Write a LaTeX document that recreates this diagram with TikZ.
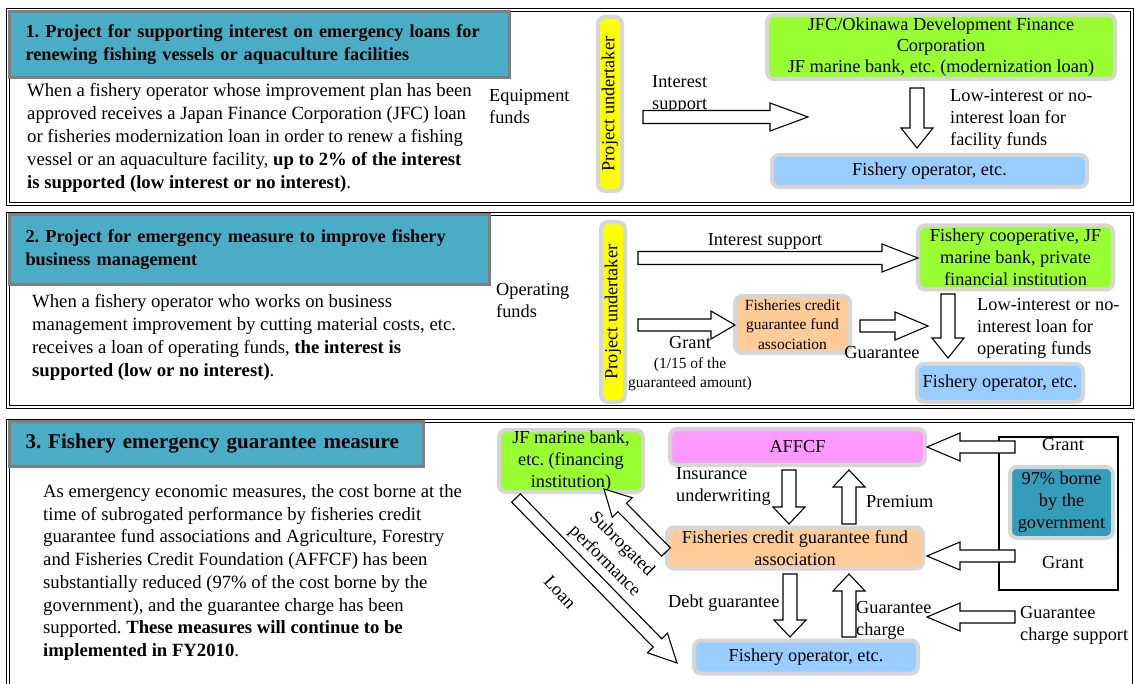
\documentclass[tikz,border=0pt]{standalone}
\usepackage{fontspec}
\setmainfont{Liberation Serif}
\usetikzlibrary{calc}
\frenchspacing
\definecolor{hdr}{HTML}{4BACC6}
\definecolor{hdrline}{HTML}{7F7F7F}
\definecolor{boxline}{HTML}{D6D6D6}
\definecolor{ylw}{HTML}{FFFF00}
\definecolor{grn}{HTML}{99FF33}
\definecolor{blu}{HTML}{99CCFF}
\definecolor{org}{HTML}{FFCC99}
\definecolor{pnk}{HTML}{FF99FF}
\definecolor{tealdk}{HTML}{349EBA}
% block arrow: [opts]{from}{to}{shaft half width}{head half width}{head length}
\newcommand\blockarrow[6][]{%
  \coordinate (bahead) at ($(#3)!#6pt!(#2)$);
  \draw[barrow,#1] ($(#2)!#4pt!90:(#3)$) -- ($(bahead)!#4pt!90:(#3)$)
    -- ($(bahead)!#5pt!90:(#3)$) -- (#3) -- ($(bahead)!#5pt!-90:(#3)$)
    -- ($(bahead)!#4pt!-90:(#3)$) -- ($(#2)!#4pt!-90:(#3)$) -- cycle;}
\begin{document}
\frenchspacing
\begin{tikzpicture}[x=1pt,y=-1pt,
  frame/.style={draw=black, double=white, double distance=1.4pt, line width=0.9pt},
  header/.style={draw=hdrline, line width=3pt, fill=hdr, anchor=north west, align=left,
    inner xsep=16pt, inner ysep=0pt, font=\fontsize{18.3}{22.5}\selectfont\bfseries},
  body/.style={anchor=west, align=left, inner sep=0pt, font=\fontsize{18.7}{23}\selectfont},
  lbl/.style={align=left, inner sep=0pt, font=\fontsize{18.3}{22}\selectfont},
  clbl/.style={align=center, inner sep=0pt, font=\fontsize{18.3}{22}\selectfont},
  rbox/.style={draw=boxline, line width=4pt, rounded corners=7pt, inner sep=0pt,
    align=center, font=\fontsize{18.3}{22}\selectfont},
  barrow/.style={draw=black, fill=white, line width=1.1pt, line join=miter}
]
\useasboundingbox (0,0) rectangle (1135,684);
\fill[white] (0,0) rectangle (1135,684);

% ---------------- Panel 1 ----------------
\draw[frame] (8,10) rectangle (1132,204);
\node[header, minimum width=500, minimum height=66, text width=468] (h1) at (8,10)
  {1. Project for supporting interest on emergency loans for\\renewing fishing vessels or aquaculture facilities};
\node[body] (t1) at (27,138) {When a fishery operator whose improvement plan has been\\
approved receives a Japan Finance Corporation (JFC) loan\\
or fisheries modernization loan in order to renew a fishing\\
vessel or an aquaculture facility, \textbf{up to 2\% of the interest}\\
\textbf{is supported (low interest or no interest)}.};
\node[lbl, anchor=west] (ef) at (489,107) {Equipment\\funds};
\node[rbox, fill=ylw, rotate=90, minimum width=174, minimum height=24] (pu1) at (610,104) {Project undertaker};
\node[lbl, anchor=west] (is1) at (652,94) {Interest\\support};
\node[rbox, fill=grn, minimum width=348, minimum height=64, font=\fontsize{18.3}{21}\selectfont] (gb1) at (941,47)
  {JFC/Okinawa Development Finance\\Corporation\\JF marine bank, etc. (modernization loan)};
\node[lbl, anchor=west] (lo1) at (950,119) {Low-interest or no-\\interest loan for\\facility funds};
\node[rbox, fill=blu, minimum width=315, minimum height=32] (bb1) at (929.5,171) {Fishery operator, etc.};
\coordinate (a1s) at (643,117); \coordinate (a1e) at (808,117);
\blockarrow{a1s}{a1e}{6.5}{14}{38}
\coordinate (d1s) at (917,88); \coordinate (d1e) at (917,148);
\blockarrow{d1s}{d1e}{7}{16}{20}

% ---------------- Panel 2 ----------------
\draw[frame] (8,214) rectangle (1132,407);
\node[header, minimum width=480, minimum height=70, text width=448] (h2) at (8,213)
  {2. Project for emergency measure to improve fishery\\business management};
\node[body] (t2) at (32,337) {When a fishery operator who works on business\\
management improvement by cutting material costs, etc.\\
receives a loan of operating funds, \textbf{the interest is}\\
\textbf{supported (low or no interest)}.};
\node[lbl, anchor=west] (of) at (496,301) {Operating\\funds};
\node[rbox, fill=ylw, rotate=90, minimum width=180, minimum height=24] (pu2) at (613,312) {Project undertaker};
\node[clbl] (is2) at (765,241) {Interest support};
\node[rbox, fill=grn, minimum width=195, minimum height=64] (gb2) at (1015.5,257.5)
  {Fishery cooperative, JF\\marine bank, private\\financial institution};
\node[rbox, fill=org, minimum width=115, minimum height=57, font=\fontsize{15.5}{19.5}\selectfont] (ob2) at (792.5,324.5)
  {Fisheries credit\\guarantee fund\\association};
\node[clbl] (gr2) at (690,343) {Grant};
\node[clbl, font=\fontsize{15.5}{18.5}\selectfont] (gr2b) at (690,374) {(1/15 of the\\guaranteed amount)};
\node[clbl] (gu2) at (882,353) {Guarantee};
\node[lbl, anchor=west] (lo2) at (977,328.5) {Low-interest or no-\\interest loan for\\operating funds};
\node[rbox, fill=blu, minimum width=166, minimum height=38] (bb2) at (1000,383) {Fishery operator, etc.};
\coordinate (i2s) at (638,258); \coordinate (i2e) at (918,258);
\blockarrow{i2s}{i2e}{6.5}{14}{36}
\coordinate (g2s) at (638,325); \coordinate (g2e) at (735,325);
\blockarrow{g2s}{g2e}{6}{14}{24}
\coordinate (u2s) at (860,326); \coordinate (u2e) at (928,326);
\blockarrow{u2s}{u2e}{6}{14}{33}
\coordinate (d2s) at (948,294); \coordinate (d2e) at (948,358);
\blockarrow{d2s}{d2e}{7}{16}{20}

% ---------------- Panel 3 ----------------
\draw[frame] (8,421) rectangle (1134,690);
\node[header, minimum width=414, minimum height=45, text width=382, font=\fontsize{21}{24}\selectfont\bfseries] (h3) at (8,420)
  {3. Fishery emergency guarantee measure};
\node[body, font=\fontsize{18.7}{22.7}\selectfont] (t3) at (43,572.5) {As emergency economic measures, the cost borne at the\\
time of subrogated performance by fisheries credit\\
guarantee fund associations and Agriculture, Forestry\\
and Fisheries Credit Foundation (AFFCF) has been\\
substantially reduced (97\% of the cost borne by the\\
government), and the guarantee charge has been\\
supported. \textbf{These measures will continue to be}\\
\textbf{implemented in FY2010}.};
\node[rbox, fill=grn, minimum width=144, minimum height=62] (gb3) at (571,461)
  {JF marine bank,\\etc. (financing\\institution)};
\node[rbox, fill=pnk, minimum width=255, minimum height=36] (pk) at (797.5,447) {AFFCF};
\node[rbox, fill=org, minimum width=256, minimum height=41] (ob3) at (795,548)
  {Fisheries credit guarantee fund\\association};
\node[rbox, fill=blu, minimum width=224, minimum height=33] (bb3) at (806,657) {Fishery operator, etc.};
\node[draw, line width=2pt, minimum width=119, minimum height=153, inner sep=0pt] (gov) at (1058.5,513.5) {};
\node[rbox, fill=tealdk, minimum width=103, minimum height=71] (tk) at (1061.5,502.5) {97\% borne\\by the\\government};
\node[clbl] (gt) at (1063,445) {Grant};
\node[clbl] (gb) at (1063,563) {Grant};
\node[lbl, anchor=west] (gcs) at (1020,625) {Guarantee\\charge support};
\node[lbl, anchor=west] (iu) at (676,486) {Insurance\\underwriting};
\node[lbl, anchor=west] (pr) at (866,502) {Premium};
\node[lbl, anchor=west] (dg) at (668,603) {Debt guarantee};
\node[lbl, anchor=west] (gc) at (856,620) {Guarantee\\charge};
\node[clbl, rotate=-45, font=\fontsize{18.3}{24}\selectfont] (sp) at (613,553) {Subrogated\\performance};
\node[clbl, rotate=-47] (ln) at (560,592) {Loan};
% arrows
\coordinate (e1s) at (789,470); \coordinate (e1e) at (789,524);
\blockarrow{e1s}{e1e}{7}{16}{17}
\coordinate (e2s) at (849,524); \coordinate (e2e) at (849,470);
\blockarrow{e2s}{e2e}{7}{16}{17}
\coordinate (e3s) at (790,574); \coordinate (e3e) at (790,637);
\blockarrow{e3s}{e3e}{7}{16}{17}
\coordinate (e4s) at (849,637); \coordinate (e4e) at (849,574);
\blockarrow{e4s}{e4e}{7}{16}{17}
\coordinate (r1s) at (1015,447); \coordinate (r1e) at (927,447);
\blockarrow{r1s}{r1e}{6}{14}{33}
\coordinate (r2s) at (1015,556); \coordinate (r2e) at (927,556);
\blockarrow{r2s}{r2e}{6}{14}{33}
\coordinate (r3s) at (1015,617); \coordinate (r3e) at (927,617);
\blockarrow{r3s}{r3e}{6}{14}{33}
\coordinate (sbs) at (666,552); \coordinate (sbe) at (604,489);
\blockarrow{sbs}{sbe}{6}{14}{26}
\coordinate (lns) at (516,498); \coordinate (lne) at (677,663);
\blockarrow{lns}{lne}{6}{14}{28}
\end{tikzpicture}
\end{document}
